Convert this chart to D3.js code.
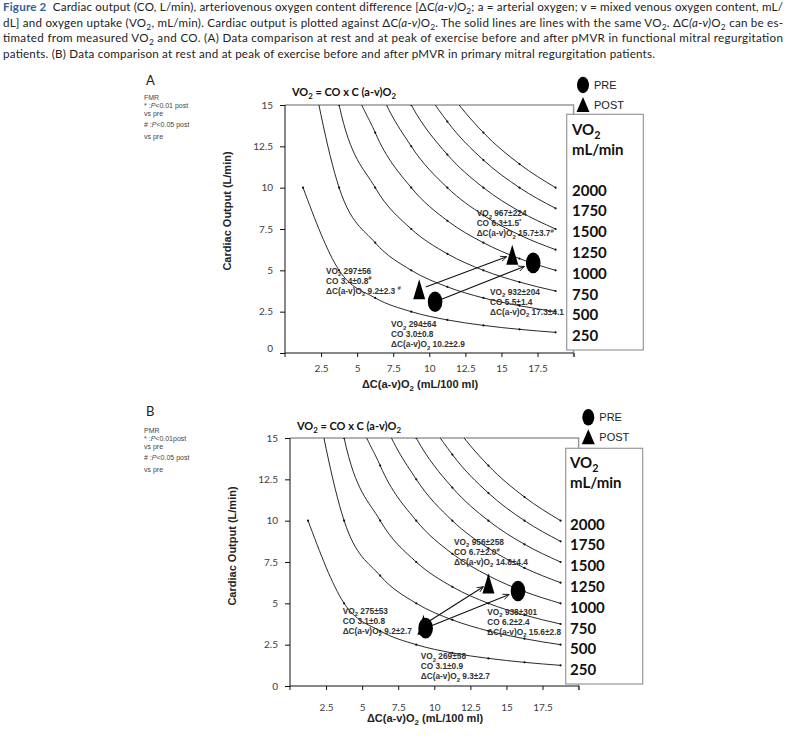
<!DOCTYPE html>
<html>
<head>
<meta charset="utf-8">
<script src="https://cdn.jsdelivr.net/npm/d3@7"></script>
<style>
body { margin: 0; background: #fff; }
svg { display: block; }
text { white-space: pre; }
</style>
</head>
<body>
<script>
// iso-VO2 lines (mL/min), CO read at each plotted point
var vo2Levels = [250, 500, 750, 1000, 1250, 1500, 1750, 2000];
var curveX = [1.25, 3.75, 6.25, 8.75, 11.25, 13.75, 16.25, 18.75];
var curveCO = [
    [10, 5, 3.33, 2.5, 2, 1.67, 1.43, 1.25],
    [20, 10, 6.67, 5, 4, 3.33, 2.86, 2.5],
    [30, 15, 10, 7.5, 6, 5, 4.29, 3.75],
    [40, 20, 13.33, 10, 8, 6.67, 5.71, 5],
    [50, 25, 16.67, 12.5, 10, 8.33, 7.14, 6.25],
    [60, 30, 20, 15, 12, 10, 8.57, 7.5],
    [70, 35, 23.33, 17.5, 14, 11.67, 10, 8.75],
    [80, 40, 26.67, 20, 16, 13.33, 11.43, 10]
];
var xTicks = [2.5, 5, 7.5, 10, 12.5, 15, 17.5, 20];
var yTicks = [0, 2.5, 5, 7.5, 10, 12.5, 15];
var legendLevels = [2000, 1750, 1500, 1250, 1000, 750, 500, 250];

// [dC(a-v)O2, CO] : rest, peak
var fmrPre = [[10.4, 3.1], [17.2, 5.45]];
var fmrPost = [[9.3, 3.85], [15.75, 5.95]];
var pmrPre = [[9.4, 3.5], [15.8, 5.75]];
var pmrPost = [[9.25, 3.7], [13.75, 6.2]];

// annotation texts: post rest, pre rest, post peak, pre peak
var fmrNotes = [
    ["VO_2 297±56", "CO 3.4±0.8^#", "ΔC(a-v)O_2 9.2±2.3 ^#"],
    ["VO_2 294±64", "CO 3.0±0.8", "ΔC(a-v)O_2 10.2±2.9"],
    ["VO_2 967±224", "CO 6.3±1.5^*", "ΔC(a-v)O_2 15.7±3.7^#"],
    ["VO_2 932±204", "CO 5.5±1.4", "ΔC(a-v)O_2 17.3±4.1"]
];
var pmrNotes = [
    ["VO_2 275±53", "CO 3.1±0.8", "ΔC(a-v)O_2 9.2±2.7"],
    ["VO_2 269±58", "CO 3.1±0.9", "ΔC(a-v)O_2 9.3±2.7"],
    ["VO_2 956±258", "CO 6.7±2.0^#", "ΔC(a-v)O_2 14.8±4.4"],
    ["VO_2 938±301", "CO 6.2±2.4", "ΔC(a-v)O_2 15.6±2.8"]
];

var captionLines = [
    "Cardiac output (CO, L/min), arteriovenous oxygen content difference [ΔC|(a-v)|O_2; a = arterial oxygen; v = mixed venous oxygen content, mL/",
    "dL] and oxygen uptake (VO_2, mL/min). Cardiac output is plotted against ΔC|(a-v)|O_2. The solid lines are lines with the same VO_2. ΔC|(a-v)|O_2 can be es-",
    "timated from measured VO_2 and CO. (A) Data comparison at rest and at peak of exercise before and after pMVR in functional mitral regurgitation",
    "patients. (B) Data comparison at rest and at peak of exercise before and after pMVR in primary mitral regurgitation patients."
];

var calibri = "Lato, 'Open Sans', sans-serif";
var arial = "'Liberation Sans', Arial, sans-serif";

var svg = d3.select('body').append('svg')
    .attr('width', 789).attr('height', 739)
    .style('font-family', arial);

// _x = subscript, ^x = superscript, | toggles italic
function addRich(text, str, size) {
    var segs = [], it = false, cur = '';
    function flush() { if (cur) segs.push({t: cur, k: null, it: it}); cur = ''; }
    for (var i = 0; i < str.length; i++) {
        var c = str[i];
        if ((c === '_' || c === '^') && i + 1 < str.length) {
            flush();
            segs.push({t: str[i + 1], k: c === '_' ? 'sub' : 'sup', it: it});
            i++;
        } else if (c === '|') {
            flush();
            it = !it;
        } else {
            cur += c;
        }
    }
    flush();
    var shift = 0;
    segs.forEach(function(s) {
        var target = s.k === 'sub' ? size * 0.3 : s.k === 'sup' ? -size * 0.4 : 0;
        var ts = text.append('tspan').text(s.t).attr('dy', target - shift);
        if (s.k) ts.attr('font-size', size * 0.72);
        if (s.it) ts.attr('font-style', 'italic');
        shift = target;
    });
    return text;
}

// caption
captionLines.forEach(function(line, i) {
    var t = svg.append('text')
        .attr('x', 3).attr('y', 11 + i * 15.5)
        .attr('font-family', calibri).attr('font-size', 11.6)
        .attr('fill', '#222');
    if (i === 0) {
        t.append('tspan').text('Figure 2').attr('font-weight', 'bold').attr('fill', '#2e5f9e');
        t.append('tspan').text('  ');
    }
    addRich(t, line, 11.6);
    t.attr('textLength', i < 3 ? 780 : 652).attr('lengthAdjust', 'spacing');
});

var panels = [
    {letter: 'A', group: 'FMR', sig: ['* :|P|<0.01 post', 'vs pre', '# :|P|<0.05 post', 'vs pre'],
     pre: fmrPre, post: fmrPost, notes: fmrNotes,
     notePos: [[2.84, 4.98], [7.35, 1.74], [13.28, 8.45], [14.21, 3.71]],
     x0: 285, x1: 573.6, y0: 353, y1: 105, tickDy: 15, zeroDy: -5,
     letterY: 80, sigY: [98, 106, 114, 124.5, 136.5], titleX: 344, titleY: 92,
     ylab: [227, 211], xlab: [420, 384],
     legX: 583, legY: 85, box: [566.7, 114.3, 643.3, 350], boxTextX: 572, boxVOY: 129, boxNumY: 190},
    {letter: 'B', group: 'PMR', sig: ['* :|P|<0.01post', 'vs pre', '# :|P|<0.05 post', 'vs pre'],
     pre: pmrPre, post: pmrPost, notes: pmrNotes,
     notePos: [[3.65, 4.55], [9.06, 1.81], [11.37, 8.72], [13.67, 4.49]],
     x0: 290, x1: 578.6, y0: 686, y1: 438, tickDy: 21, zeroDy: 0,
     letterY: 411, sigY: [431, 439, 446.5, 457.5, 470], titleX: 349, titleY: 426,
     ylab: [232, 546], xlab: [425, 718],
     legX: 588.3, legY: 417.3, box: [565.7, 448.3, 642.7, 684], boxTextX: 570, boxVOY: 462, boxNumY: 524}
];

var defs = svg.append('defs');
defs.append('marker').attr('id', 'arrow')
    .attr('viewBox', '0 -5 10 10').attr('refX', 9).attr('refY', 0)
    .attr('markerWidth', 7).attr('markerHeight', 7)
    .attr('markerUnits', 'userSpaceOnUse').attr('orient', 'auto')
    .append('path').attr('d', 'M0,-4L9,0L0,4')
    .attr('fill', 'none').attr('stroke', '#111').attr('stroke-width', 1.2);

function ellipse(g, cx, cy, rx, ry) {
    g.append('ellipse').attr('cx', cx).attr('cy', cy).attr('rx', rx).attr('ry', ry).attr('fill', '#000');
}
function triangle(g, cx, cy, w, h) {
    g.append('path')
        .attr('d', 'M' + cx + ',' + (cy - h / 2) + 'L' + (cx + w / 2) + ',' + (cy + h / 2) + 'L' + (cx - w / 2) + ',' + (cy + h / 2) + 'Z')
        .attr('fill', '#000');
}

panels.forEach(function(p, pi) {
    var x = d3.scaleLinear().domain([0, 20]).range([p.x0, p.x1]);
    var y = d3.scaleLinear().domain([0, 15]).range([p.y0, p.y1]);
    var g = svg.append('g');

    // panel letter + significance notes
    g.append('text').attr('x', 146).attr('y', p.letterY + 4.5)
        .attr('font-family', calibri).attr('font-size', 13).attr('fill', '#222').text(p.letter);
    g.append('text').attr('x', 144).attr('y', p.sigY[0] + 2.4)
        .attr('font-size', 7).attr('fill', '#444').text(p.group);
    p.sig.forEach(function(s, i) {
        addRich(g.append('text').attr('x', 144).attr('y', p.sigY[i + 1] + 2.4)
            .attr('font-size', 7).attr('fill', '#444'), s, 7);
    });

    // title
    addRich(g.append('text').attr('x', p.titleX).attr('y', p.titleY + 4)
        .attr('text-anchor', 'middle').attr('font-family', calibri)
        .attr('font-weight', 'bold').attr('font-size', 11).attr('fill', '#111'),
        'VO_2 = CO x C (a-v)O_2', 11);

    // frame top/right
    g.append('path')
        .attr('d', 'M' + x(0) + ',' + y(15) + 'H' + x(20) + 'V' + (p.y0 + 4))
        .attr('fill', 'none').attr('stroke', '#999').attr('stroke-width', 1.5);

    // iso-VO2 curves
    var clipId = 'clip' + pi;
    defs.append('clipPath').attr('id', clipId).append('rect')
        .attr('x', x(0)).attr('y', y(15)).attr('width', x(20) - x(0)).attr('height', y(0) - y(15));
    var line = d3.line()
        .x(function(d) { return x(d[0]); })
        .y(function(d) { return y(d[1]); })
        .curve(d3.curveMonotoneX);
    var cg = g.append('g').attr('clip-path', 'url(#' + clipId + ')');
    vo2Levels.forEach(function(v, li) {
        var pts = curveX.map(function(cx, k) { return [cx, curveCO[li][k]]; });
        cg.append('path').attr('d', line(pts))
            .attr('fill', 'none').attr('stroke', '#111').attr('stroke-width', 0.9);
        cg.selectAll(null).data(pts.filter(function(d) { return d[1] <= 15; }))
            .enter().append('circle')
            .attr('cx', function(d) { return x(d[0]); })
            .attr('cy', function(d) { return y(d[1]); })
            .attr('r', 1.1).attr('fill', '#111');
    });

    // axes
    var xAxis = d3.axisBottom(x).tickValues(xTicks).tickSize(4)
        .tickFormat(function(d) { return d === 20 ? '' : String(d); });
    var xa = g.append('g').attr('transform', 'translate(0,' + p.y0 + ')').call(xAxis);
    xa.select('.domain').attr('d', 'M' + x(0) + ',0H' + x(20)).attr('stroke', '#111');
    xa.selectAll('.tick line').attr('stroke', '#111');
    xa.selectAll('.tick text').attr('y', p.tickDy).attr('dy', '0.35em')
        .attr('font-family', calibri).attr('font-size', 10).attr('fill', '#404040');

    var yAxis = d3.axisLeft(y).tickValues(yTicks).tickSize(5)
        .tickFormat(function(d) { return String(d); });
    var ya = g.append('g').attr('transform', 'translate(' + p.x0 + ',0)').call(yAxis);
    ya.select('.domain').attr('d', 'M0,' + y(15) + 'V' + (p.y0 + 4)).attr('stroke', '#111');
    ya.selectAll('.tick line').attr('stroke', '#111');
    ya.selectAll('.tick text').attr('x', -12)
        .attr('y', function(d) { return d === 0 ? p.zeroDy : 0; })
        .attr('font-family', calibri).attr('font-size', 10).attr('fill', '#404040');

    // axis titles
    g.append('text')
        .attr('transform', 'translate(' + p.ylab[0] + ',' + p.ylab[1] + ') rotate(-90)')
        .attr('text-anchor', 'middle').attr('dy', '0.35em')
        .attr('font-weight', 'bold').attr('font-size', 11).attr('fill', '#222')
        .text('Cardiac Output (L/min)');
    addRich(g.append('text').attr('x', p.xlab[0]).attr('y', p.xlab[1] + 4)
        .attr('text-anchor', 'middle').attr('font-weight', 'bold')
        .attr('font-size', 11).attr('fill', '#222'), 'ΔC(a-v)O_2 (mL/100 ml)', 11);

    // markers: post under pre
    var mg = g.append('g');
    p.post.forEach(function(d) { triangle(mg, x(d[0]), y(d[1]), 12, 20); });
    p.pre.forEach(function(d) { ellipse(mg, x(d[0]), y(d[1]), 7.3, 10.3); });

    // arrows rest -> peak
    function arrow(a, b, endOff) {
        var ax = x(a[0]), ay = y(a[1]), bx = x(b[0]), by = y(b[1]);
        var len = Math.hypot(bx - ax, by - ay), ux = (bx - ax) / len, uy = (by - ay) / len;
        mg.append('line')
            .attr('x1', ax + ux * 7).attr('y1', ay + uy * 7)
            .attr('x2', bx - ux * endOff).attr('y2', by - uy * endOff)
            .attr('stroke', '#111').attr('stroke-width', 1.1)
            .attr('marker-end', 'url(#arrow)');
    }
    arrow(p.pre[0], p.pre[1], 9.5);
    arrow(p.post[0], p.post[1], 6);

    // annotations
    p.notes.forEach(function(lines, ni) {
        var pos = p.notePos[ni];
        lines.forEach(function(s, li) {
            addRich(g.append('text')
                .attr('x', x(pos[0])).attr('y', y(pos[1]) + li * 10 + 3)
                .attr('font-weight', 'bold').attr('font-size', 8.3).attr('fill', '#333'), s, 8.3);
        });
    });

    // legend (markers)
    ellipse(g, p.legX, p.legY, 6, 8.3);
    g.append('text').attr('x', p.legX + 11).attr('y', p.legY + 4)
        .attr('font-size', 11).attr('fill', '#222').text('PRE');
    triangle(g, p.legX, p.legY + 19.5, 13, 15);
    g.append('text').attr('x', p.legX + 11).attr('y', p.legY + 23.5)
        .attr('font-size', 11).attr('fill', '#222').text('POST');

    // VO2 level box
    var b = p.box;
    g.append('rect').attr('x', b[0]).attr('y', b[1]).attr('width', b[2] - b[0]).attr('height', b[3] - b[1])
        .attr('fill', '#fff').attr('stroke', '#999').attr('stroke-width', 1.2);
    addRich(g.append('text').attr('x', p.boxTextX).attr('y', p.boxVOY + 5.5)
        .attr('font-family', calibri).attr('font-weight', 'bold').attr('font-size', 15).attr('fill', '#111'),
        'VO_2', 15);
    g.append('text').attr('x', p.boxTextX).attr('y', p.boxVOY + 25.5)
        .attr('font-family', calibri).attr('font-weight', 'bold').attr('font-size', 15).attr('fill', '#111')
        .text('mL/min');
    g.selectAll(null).data(legendLevels).enter().append('text')
        .attr('x', p.boxTextX)
        .attr('y', function(d, i) { return p.boxNumY + i * 20.8 + 5.5; })
        .attr('font-family', calibri).attr('font-weight', 'bold').attr('font-size', 15).attr('fill', '#111')
        .text(function(d) { return d; });
});
</script>
</body>
</html>
